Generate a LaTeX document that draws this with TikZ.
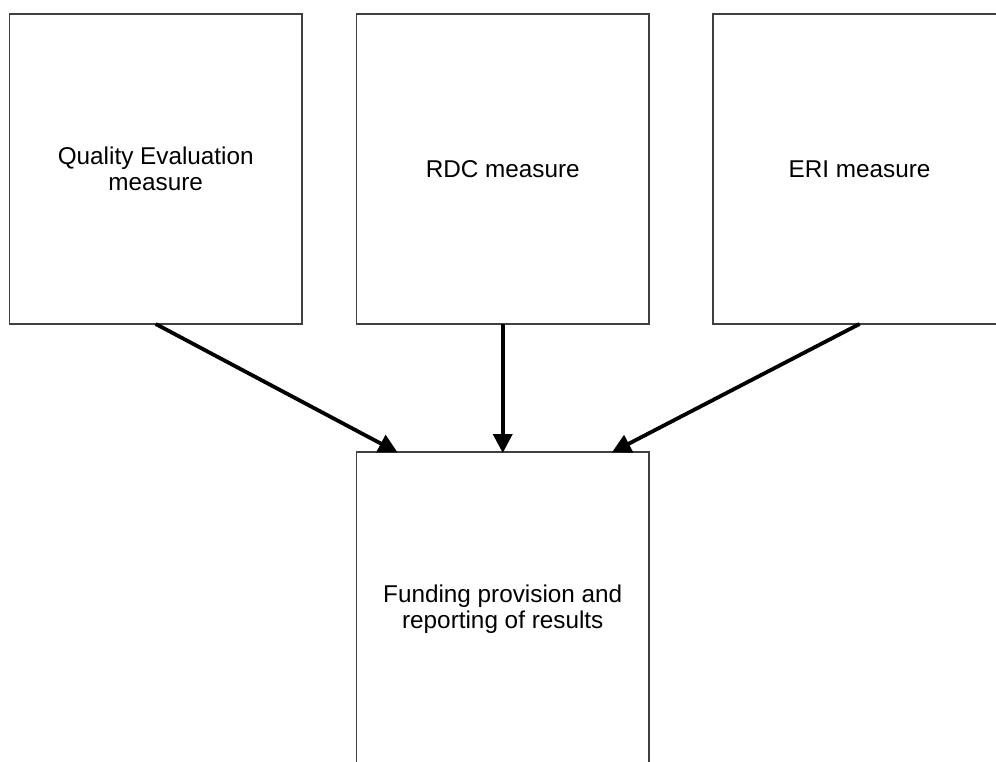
\documentclass[tikz,border=0pt]{standalone}
\usepackage{fontspec}
\setmainfont{Liberation Sans}
\usetikzlibrary{arrows.meta,calc}
\begin{document}
\begin{tikzpicture}[x=1pt,y=-1pt,
  box/.style={draw=black!75,line width=1.6pt,fill=white,rectangle,minimum width=292.5pt,minimum height=310pt,inner sep=0pt,outer sep=0pt,align=center,font=\fontsize{24.3}{25.5}\selectfont},
  arr/.style={line width=3.8pt,black,-{Triangle[length=19pt,width=19pt]},shorten >=-1pt}]
\useasboundingbox (0,0) rectangle (996,761);
\clip (0,0) rectangle (996,761);
\node[box] (a) at (155.75,169) {Quality Evaluation\\measure};
\node[box] (b) at (502.75,169) {RDC measure};
\node[box] (c) at (859.5,169) {ERI measure};
\node[box,minimum height=314pt] (d) at (502.75,609) {Funding provision and\\reporting of results};
\draw[arr] (a.south) -- ($(d.north)+(-106,0)$);
\draw[arr] (b.south) -- (d.north);
\draw[arr] (c.south) -- ($(d.north)+(110,0)$);
\end{tikzpicture}
\end{document}
